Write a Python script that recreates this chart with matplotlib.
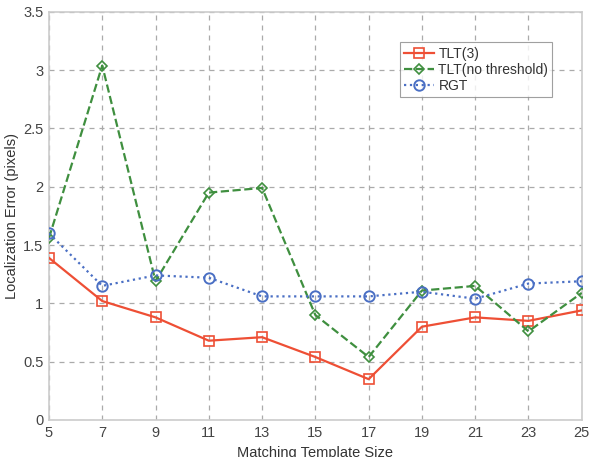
import matplotlib
matplotlib.use("Agg")
import matplotlib.pyplot as plt

plt.rcParams['font.family'] = ['Liberation Sans', 'DejaVu Sans']

sizes = [5, 7, 9, 11, 13, 15, 17, 19, 21, 23, 25]
tlt3 = [1.39, 1.02, 0.88, 0.68, 0.71, 0.54, 0.35, 0.80, 0.88, 0.85, 0.94]
tlt_nothr = [1.56, 3.04, 1.19, 1.95, 1.99, 0.90, 0.54, 1.11, 1.15, 0.76, 1.09]
rgt = [1.60, 1.15, 1.24, 1.22, 1.06, 1.06, 1.06, 1.10, 1.04, 1.17, 1.19]
yticks = [0, 0.5, 1, 1.5, 2, 2.5, 3, 3.5]
ytick_labels = ['0', '0.5', '1', '1.5', '2', '2.5', '3', '3.5']

fig = plt.figure(figsize=(5.9, 4.57), dpi=100)
ax = fig.add_axes([0.083, 0.081, 0.903, 0.893])

red = '#ee4f35'
green = '#3f8f3f'
blue = '#4a6fc4'

ax.plot(sizes, tlt3, color=red, linestyle='-', lw=1.6, marker='s', ms=6.5,
        mfc='none', mec=red, mew=1.2, label='TLT(3)', zorder=3)
ax.plot(sizes, tlt_nothr, color=green, linestyle='--', lw=1.6, marker='D', ms=5.5,
        mfc='none', mec=green, mew=1.2, label='TLT(no threshold)', zorder=3)
ax.plot(sizes, rgt, color=blue, linestyle=':', lw=1.6, marker='o', ms=7.5,
        mfc='none', mec=blue, mew=1.4, label='RGT', zorder=3)

ax.set_xlim(5, 25)
ax.set_ylim(0, 3.5)
ax.set_xticks(sizes)
ax.set_yticks(yticks)
ax.set_yticklabels(ytick_labels)
ax.tick_params(axis='both', labelsize=10.5, colors='#444444', length=0, pad=4)
ax.grid(True, linestyle=(0, (4, 4)), color='#aaaaaa', lw=0.9)
for s in ax.spines.values():
    s.set_color('#cccccc')
    s.set_linewidth(1.2)

ax.set_xlabel('Matching Template Size', fontsize=10.5, color='#333333', labelpad=5)
ax.set_ylabel('Localization Error (pixels)', fontsize=10.5, color='#333333', labelpad=3)

leg = ax.legend(loc='upper right', bbox_to_anchor=(0.945, 0.925), fontsize=10,
                frameon=True, fancybox=False, borderpad=0.3, labelspacing=0.15,
                handlelength=2.2, handletextpad=0.3, borderaxespad=0)
leg.get_frame().set_edgecolor('#888888')
leg.get_frame().set_linewidth(0.8)
for t in leg.get_texts():
    t.set_color('#333333')

fig.savefig('out.png', dpi=100)
